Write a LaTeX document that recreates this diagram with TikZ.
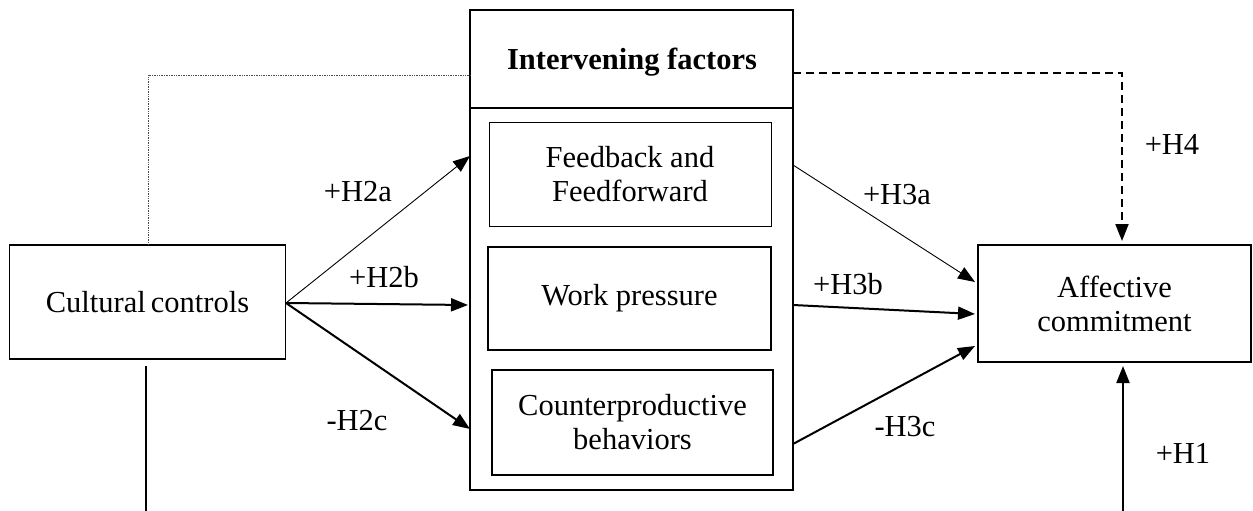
\documentclass[tikz,border=0pt]{standalone}
\usepackage{fontspec}
\setmainfont{Liberation Serif}
\usetikzlibrary{arrows.meta}
\begin{document}
\begin{tikzpicture}[x=1pt,y=-1pt,
  every node/.style={font=\fontsize{30.5}{34}\selectfont, inner sep=0pt},
  boxthin/.style={draw, line width=1.2pt, align=center},
  boxthick/.style={draw, line width=2.4pt, align=center},
  lbl/.style={},
  tip/.style={-{Triangle[length=17pt,width=13pt]}},
  thinarr/.style={tip, line width=0.9pt},
  thickarr/.style={tip, line width=2pt}
]
\useasboundingbox (0,0) rectangle (1253,511);
% nodes
\node[boxthin, minimum width=276pt, minimum height=114pt] (cc) at (147.5,302) {Cultural\,controls};
\node[draw, line width=2pt, minimum width=323pt, minimum height=480pt] (iv) at (631.5,250) {};
\node[font=\fontsize{30.5}{34}\selectfont\bfseries] (ivh) at (632,62) {Intervening factors};
\coordinate (hl) at (470,108);
\coordinate (hr) at (793,108);
\node[boxthin, line width=1pt, minimum width=282pt, minimum height=104pt] (fb) at (630,174) {Feedback and\\Feedforward};
\node[boxthick, minimum width=283pt, minimum height=103pt] (wp) at (629.5,298.5) {Work pressure};
\node[boxthick, minimum width=281pt, minimum height=105pt] (cp) at (632.5,422.5) {Counterproductive\\behaviors};
\node[boxthin, minimum width=273pt, minimum height=117pt] (ac) at (1114.5,303.5) {Affective\\commitment};
\draw[line width=2pt] (hl) -- (hr);
% coordinates
\coordinate (ccR) at (286,303);
\coordinate (a2a) at (470,156);
\coordinate (a2b) at (468,305);
\coordinate (a2c) at (470,429);
\coordinate (s3a) at (793,165);
\coordinate (s3b) at (793,305);
\coordinate (s3c) at (793,444);
\coordinate (e3a) at (975,282);
\coordinate (e3b) at (975,314);
\coordinate (e3c) at (975,346);
\coordinate (dotTop) at (148,75);
\coordinate (dotEnd) at (470,75);
\coordinate (dashStart) at (793,73);
\coordinate (dashCorner) at (1122,73);
\coordinate (dashEnd) at (1122,241);
\coordinate (ccBot) at (146,366);
\coordinate (ccLow) at (146,511);
\coordinate (h1Low) at (1123,511);
\coordinate (h1Top) at (1123,366);
% connectors
\draw[thinarr] (ccR) -- (a2a);
\draw[thickarr] (ccR) -- (a2b);
\draw[thickarr] (ccR) -- (a2c);
\draw[thinarr] (s3a) -- (e3a);
\draw[thickarr] (s3b) -- (e3b);
\draw[thickarr] (s3c) -- (e3c);
\draw[densely dotted, line width=0.7pt, gray!60!black] (cc.north -| dotTop) -- (dotTop) -- (dotEnd);
\draw[tip, line width=2pt, dash pattern=on 8pt off 5pt] (dashStart) -- (dashCorner) -- (dashEnd);
\draw[line width=2pt] (ccBot) -- (ccLow);
\draw[thickarr] (h1Low) -- (h1Top);
% labels
\node[lbl] (l2a) at (358,192) {+H2a};
\node[lbl] (l2b) at (384,277) {+H2b};
\node[lbl] (l2c) at (357,421) {-H2c};
\node[lbl] (l3a) at (897,195) {+H3a};
\node[lbl] (l3b) at (848,284) {+H3b};
\node[lbl] (l3c) at (905,427) {-H3c};
\node[lbl] (l4) at (1172,144) {+H4};
\node[lbl] (l1) at (1183,453) {+H1};
\end{tikzpicture}
\end{document}
